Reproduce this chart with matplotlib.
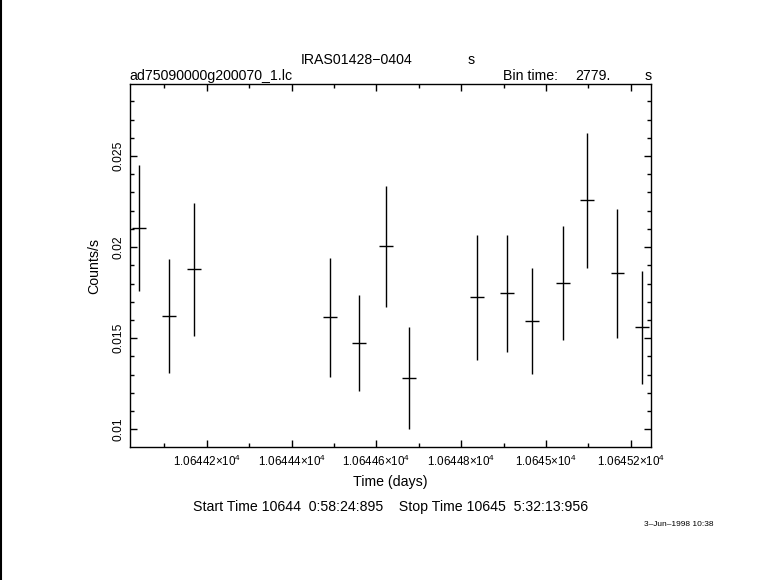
import matplotlib
matplotlib.use("Agg")
import matplotlib.pyplot as plt
from matplotlib.ticker import FixedLocator, MultipleLocator, FixedFormatter
from matplotlib.lines import Line2D

# Data (time in days, count rate in counts/s)
time_days = [10644.0408, 10644.1116, 10644.1705, 10644.4899, 10644.5597,
             10644.6219, 10644.6776, 10644.8380, 10644.9087, 10644.9677,
             10645.0394, 10645.0974, 10645.1682, 10645.2271]
rate = [0.02103, 0.01620, 0.01878, 0.01615, 0.01472, 0.02004, 0.01280,
        0.01724, 0.01746, 0.01593, 0.01801, 0.02257, 0.01856, 0.01559]
rate_err = [0.00345, 0.00312, 0.00365, 0.00327, 0.00263, 0.00332, 0.00280,
            0.00345, 0.00321, 0.00292, 0.00313, 0.00370, 0.00353, 0.00309]
bin_time_s = 2779.0
half_bin = bin_time_s / 86400.0 / 2.0

x_major = [10644.2, 10644.4, 10644.6, 10644.8, 10645.0, 10645.2]
x_labels = [r"$1.06442{\times}10^{4}$", r"$1.06444{\times}10^{4}$",
            r"$1.06446{\times}10^{4}$", r"$1.06448{\times}10^{4}$",
            r"$1.0645{\times}10^{4}$", r"$1.06452{\times}10^{4}$"]
y_major = [0.01, 0.015, 0.02, 0.025]
y_labels = ["0.01", "0.015", "0.02", "0.025"]

plt.rcParams['font.family'] = ['Liberation Sans', 'DejaVu Sans']
plt.rcParams['mathtext.fontset'] = 'custom'
plt.rcParams['mathtext.rm'] = 'Liberation Sans'
plt.rcParams['mathtext.it'] = 'Liberation Sans'
plt.rcParams['mathtext.bf'] = 'Liberation Sans'
fs = 9

W, H = 781, 580
fig = plt.figure(figsize=(W/100, H/100), dpi=100)
ax = fig.add_axes([130/W, 1-447/H, (651-130)/W, (447-84)/H])

ax.errorbar(time_days, rate, yerr=rate_err, xerr=half_bin, fmt='none',
            ecolor='black', elinewidth=1.0, capsize=0)

ax.set_xlim(10644.0189, 10645.2476)
ax.set_ylim(0.00903, 0.02895)

ax.xaxis.set_major_locator(FixedLocator(x_major))
ax.xaxis.set_major_formatter(FixedFormatter(x_labels))
ax.xaxis.set_minor_locator(MultipleLocator(0.1))
ax.yaxis.set_major_locator(FixedLocator(y_major))
ax.yaxis.set_major_formatter(FixedFormatter(y_labels))
ax.yaxis.set_minor_locator(MultipleLocator(0.001))

ax.tick_params(which='both', direction='in', top=True, right=True,
               color='black', width=1.0)
ax.tick_params(which='major', length=5)
ax.tick_params(which='minor', length=3)
ax.tick_params(axis='x', which='major', pad=5)
ax.tick_params(axis='y', which='major', pad=4)
for sp in ax.spines.values():
    sp.set_linewidth(1.0)

xl = ax.set_xlabel("Time (days)", fontsize=fs, labelpad=4)
yl = ax.set_ylabel("Counts/s", fontsize=fs, labelpad=8)

def ft(x, y, s, ha='left', **kw):
    return fig.text(x/W, 1-y/H, s, ha=ha, va='center', fontsize=fs, **kw)

t_title = ft(357, 60, "IRAS01428\u22120404", ha='center')
t_s1 = ft(471, 60, "s", ha='center')
t_file = ft(129, 76, "ad75090000g200070_1.lc")
t_bin = ft(503, 76, "Bin time:")
t_bv = ft(611, 76, "2779.", ha='right')
t_s2 = ft(648, 76, "s", ha='center')
t_start = ft(391, 507, "Start Time 10644  0:58:24:895    Stop Time 10645  5:32:13:956", ha='center')
t_date = ft(714, 525, "3\u2013Jun\u20131998 10:38", ha='right')

fig.add_artist(Line2D([0.001, 0.001], [0, 1], color='black', lw=1.5,
                      transform=fig.transFigure))

# fit text sizes to widths measured on the reference
fig.canvas.draw()
r = fig.canvas.get_renderer()
w = t_start.get_window_extent(r).width
fs_main = fs * 394 / w
for t in (t_title, t_s1, t_file, t_bin, t_bv, t_s2, t_start, xl, yl):
    t.set_fontsize(fs_main)
wd = t_date.get_window_extent(r).width
t_date.set_fontsize(fs * 69 / wd)

ax.tick_params(axis='both', labelsize=fs)
for lab in ax.get_yticklabels():
    lab.set_rotation(90)
    lab.set_va('center')
fig.canvas.draw()
wx = ax.get_xticklabels()[0].get_window_extent(r).width
hy = ax.get_yticklabels()[3].get_window_extent(r).height
ax.tick_params(axis='x', labelsize=fs * 68 / wx)
ax.tick_params(axis='y', labelsize=fs * 30 / hy)
for lab in ax.get_yticklabels():
    lab.set_rotation(90)
    lab.set_va('center')

fig.savefig("out.png", dpi=100)
